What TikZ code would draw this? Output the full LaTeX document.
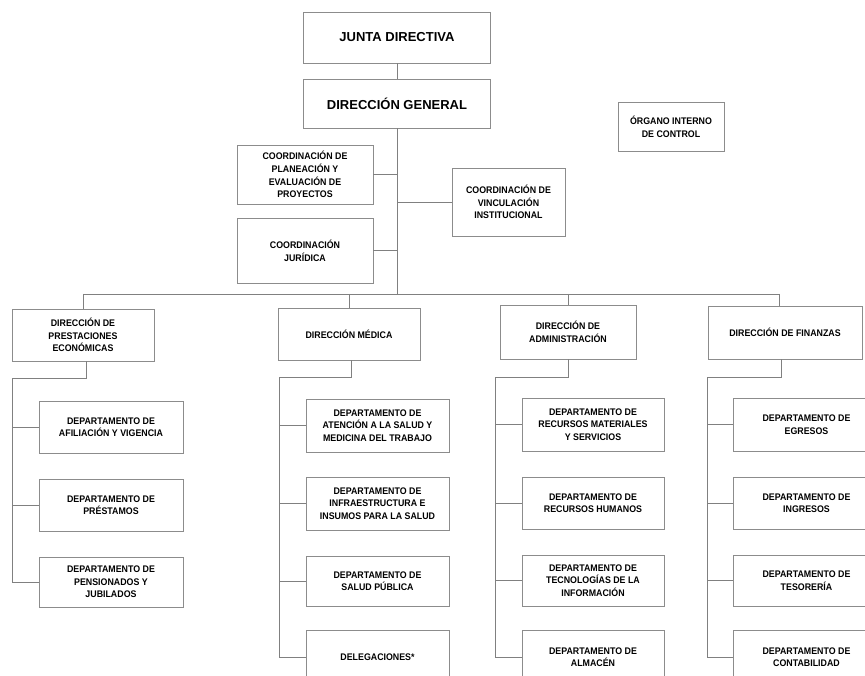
\documentclass[tikz,border=0pt]{standalone}
\usepackage{fontspec}
\setmainfont{Liberation Sans}
\newfontfamily\narrowfont[FakeStretch=0.92]{Liberation Sans}
\definecolor{boxgray}{gray}{0.55}
\definecolor{linegray}{gray}{0.5}
\tikzset{
  box/.style={draw=boxgray, line width=0.8pt, fill=white, align=center, inner sep=1pt,
    font=\narrowfont\bfseries\fontsize{9.6}{12.6}\selectfont},
  bigbox/.style={box, font=\bfseries\fontsize{13}{15}\selectfont},
  conn/.style={draw=linegray, line width=0.8pt},
}
\begin{document}
\begin{tikzpicture}[x=1pt,y=-1pt]
\useasboundingbox[fill=white] (0,0) rectangle (865,676);
\clip (0,0) rectangle (865,676);
% top
\node[bigbox, minimum width=187pt, minimum height=51pt] (JD) at (397,37.5) {JUNTA DIRECTIVA};
\node[bigbox, minimum width=187pt, minimum height=49pt] (DG) at (397,103.5) {DIRECCIÓN GENERAL};
\node[box, minimum width=106pt, minimum height=49pt] (OIC) at (671,126.5) {ÓRGANO INTERNO\\DE CONTROL};
\node[box, minimum width=136pt, minimum height=59pt] (CP) at (305,174.5) {COORDINACIÓN DE\\PLANEACIÓN Y\\EVALUACIÓN DE\\PROYECTOS};
\node[box, minimum width=136pt, minimum height=65pt] (CJ) at (305,250.5) {COORDINACIÓN\\JURÍDICA};
\node[box, minimum width=113pt, minimum height=68pt] (CV) at (508.5,202) {COORDINACIÓN DE\\VINCULACIÓN\\INSTITUCIONAL};
% column 1
\node[box, minimum width=142pt, minimum height=52pt] (DPE) at (83,335) {DIRECCIÓN DE\\PRESTACIONES\\ECONÓMICAS};
\node[box, minimum width=144pt, minimum height=52pt] (d11) at (111,427) {DEPARTAMENTO DE\\AFILIACIÓN Y VIGENCIA};
\node[box, minimum width=144pt, minimum height=52pt] (d12) at (111,505) {DEPARTAMENTO DE\\PRÉSTAMOS};
\node[box, minimum width=144pt, minimum height=50pt] (d13) at (111,582) {DEPARTAMENTO DE\\PENSIONADOS Y\\JUBILADOS};
% column 2
\node[box, minimum width=142pt, minimum height=52pt] (DM) at (349,334) {DIRECCIÓN MÉDICA};
\node[box, minimum width=143pt, minimum height=53pt] (d21) at (377.5,425.5) {DEPARTAMENTO DE\\ATENCIÓN A LA SALUD Y\\MEDICINA DEL TRABAJO};
\node[box, minimum width=143pt, minimum height=53pt] (d22) at (377.5,503.5) {DEPARTAMENTO DE\\INFRAESTRUCTURA E\\INSUMOS PARA LA SALUD};
\node[box, minimum width=143pt, minimum height=50pt] (d23) at (377.5,581) {DEPARTAMENTO DE\\SALUD PÚBLICA};
\node[box, minimum width=143pt, minimum height=54pt] (d24) at (377.5,657) {DELEGACIONES*};
% column 3
\node[box, minimum width=136pt, minimum height=54pt] (DA) at (568,332) {DIRECCIÓN DE\\ADMINISTRACIÓN};
\node[box, minimum width=142pt, minimum height=53pt] (d31) at (593,424.5) {DEPARTAMENTO DE\\RECURSOS MATERIALES\\Y SERVICIOS};
\node[box, minimum width=142pt, minimum height=52pt] (d32) at (593,503) {DEPARTAMENTO DE\\RECURSOS HUMANOS};
\node[box, minimum width=142pt, minimum height=51pt] (d33) at (593,580.5) {DEPARTAMENTO DE\\TECNOLOGÍAS DE LA\\INFORMACIÓN};
\node[box, minimum width=142pt, minimum height=54pt] (d34) at (593,657) {DEPARTAMENTO DE\\ALMACÉN};
% column 4
\node[box, minimum width=154pt, minimum height=53pt] (DF) at (785,332.5) {DIRECCIÓN DE FINANZAS};
\node[box, minimum width=147pt, minimum height=53pt] (d41) at (806.5,424.5) {DEPARTAMENTO DE\\EGRESOS};
\node[box, minimum width=147pt, minimum height=52pt] (d42) at (806.5,503) {DEPARTAMENTO DE\\INGRESOS};
\node[box, minimum width=147pt, minimum height=51pt] (d43) at (806.5,580.5) {DEPARTAMENTO DE\\TESORERÍA};
\node[box, minimum width=147pt, minimum height=54pt] (d44) at (806.5,657) {DEPARTAMENTO DE\\CONTABILIDAD};
% coordinates
\coordinate (busc) at (397,294);
\coordinate (busL) at (83,294);
\coordinate (busR) at (779,294);
\coordinate (v1) at (12,378);
\coordinate (v2) at (279,377);
\coordinate (v3) at (495,377);
\coordinate (v4) at (707,377);
% connectors
\draw[conn] (JD.south) -- (DG.north);
\draw[conn] (DG.south) -- (busc);
\draw[conn] (CP.east) -- (CP.east -| busc);
\draw[conn] (CJ.east) -- (CJ.east -| busc);
\draw[conn] (CV.west) -- (CV.west -| busc);
\draw[conn] (busL) -- (busR);
\draw[conn] (busL) -- (DPE.north);
\draw[conn] (DM.north |- busL) -- (DM.north);
\draw[conn] (DA.north |- busL) -- (DA.north);
\draw[conn] (busR) -- (busR |- DF.north);
\draw[conn] ([xshift=3pt]DPE.south) |- (v1) -- (v1 |- d13.west);
\draw[conn] ([xshift=2pt]DM.south) |- (v2) -- (v2 |- d24.west);
\draw[conn] (DA.south) |- (v3) -- (v3 |- d34.west);
\draw[conn] ([xshift=-4pt]DF.south) |- (v4) -- (v4 |- d44.west);
\foreach \d in {d11,d12,d13} \draw[conn] (v1 |- \d.west) -- (\d.west);
\foreach \d in {d21,d22,d23,d24} \draw[conn] (v2 |- \d.west) -- (\d.west);
\foreach \d in {d31,d32,d33,d34} \draw[conn] (v3 |- \d.west) -- (\d.west);
\foreach \d in {d41,d42,d43,d44} \draw[conn] (v4 |- \d.west) -- (\d.west);
\end{tikzpicture}
\end{document}
